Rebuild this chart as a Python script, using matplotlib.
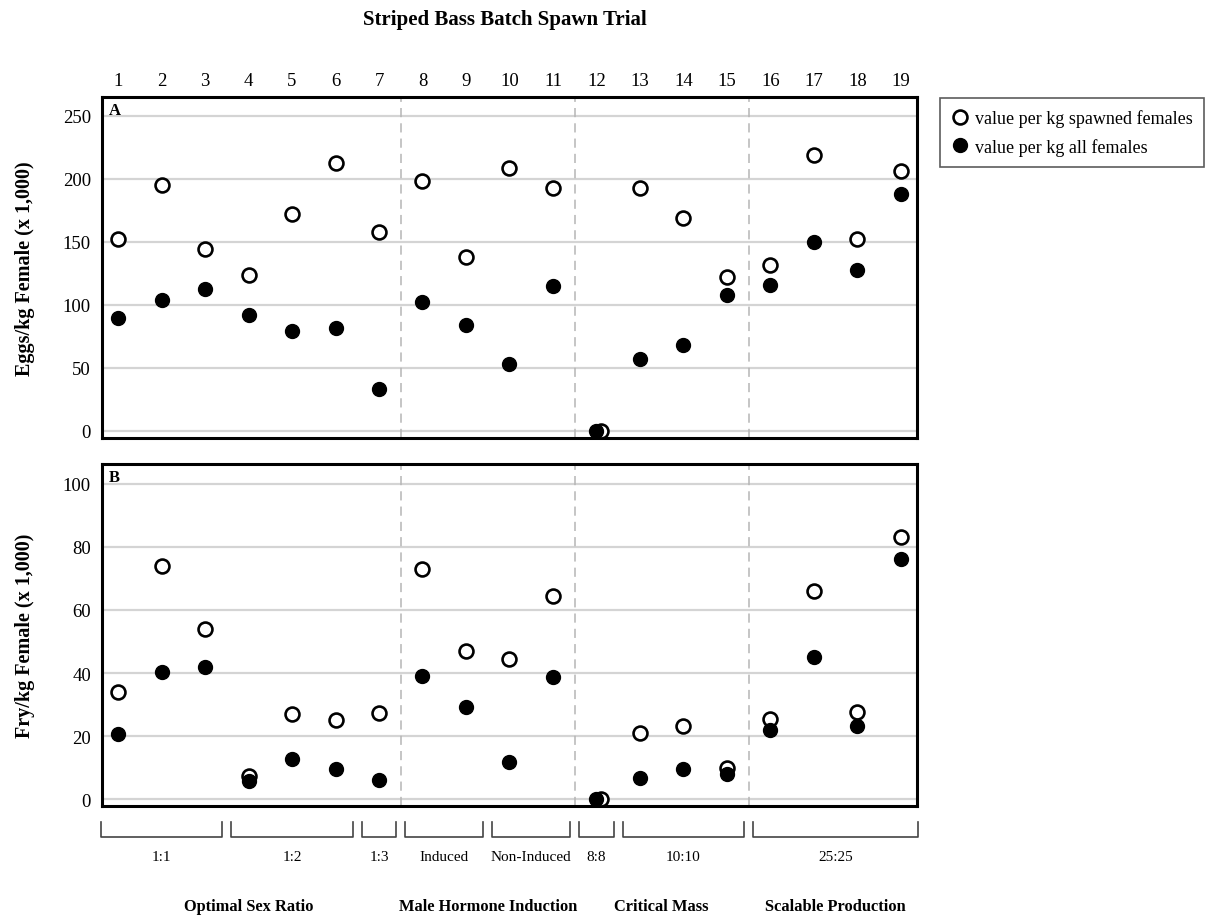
import numpy as np
import matplotlib.pyplot as plt

plt.rcParams['font.family'] = ['Liberation Serif', 'DejaVu Serif']

trials = np.arange(1, 20)

eggs_spawned = [152, 195, 144, 124, 172, 213, 158, 198, 138, 209, 193, 0,
                193, 169, 122, 132, 219, 152, 206]
eggs_all = [90, 104, 113, 92, 79, 82, 33, 102, 84, 53, 115, 0,
            57, 68, 108, 116, 150, 128, 188]

fry_spawned = [34, 74, 54, 7.4, 27, 25, 27.2, 73, 47, 44.3, 64.3, 0,
               21, 23.2, 9.8, 25.3, 66, 27.7, 83]
fry_all = [20.5, 40.3, 41.8, 5.6, 12.6, 9.6, 6.2, 38.9, 29.2, 11.7, 38.8, 0,
           6.8, 9.4, 8.1, 22, 45.2, 23.2, 76.3]

# sub-groups shown as brackets under panel B: (label, first trial, last trial)
subgroups = [('1:1', 1, 3), ('1:2', 4, 6), ('1:3', 7, 7),
             ('Induced', 8, 9), ('Non-Induced', 10, 11),
             ('8:8', 12, 12), ('10:10', 13, 15), ('25:25', 16, 19)]
# experiments: (label, first trial, last trial)
experiments = [('Optimal Sex Ratio', 1, 7), ('Male Hormone Induction', 8, 11),
               ('Critical Mass', 12, 15), ('Scalable Production', 16, 19)]

fig = plt.figure(figsize=(12.07, 9.2), dpi=100)
ax_a = fig.add_axes([0.0845, 0.5228, 0.6752, 0.3707])
ax_b = fig.add_axes([0.0845, 0.1228, 0.6752, 0.3717])

grid_c = '#d4d4d4'
ms = 10


def style_panel(ax, letter):
    ax.set_xlim(0.63, 19.37)
    ax.set_xticks(trials)
    ax.grid(axis='y', color=grid_c, lw=1.6)
    ax.set_axisbelow(True)
    for s in ax.spines.values():
        s.set_linewidth(2.2)
        s.set_color('black')
    ax.tick_params(axis='y', length=0, pad=8, labelsize=13.5)
    for _, first, last in experiments[:-1]:
        ax.axvline(last + 0.5, color='#b5b5b5', lw=1.1, ls=(0, (6, 4)), zorder=1)
    ax.text(0.008, 0.985, letter, transform=ax.transAxes, ha='left', va='top',
            fontsize=12, fontweight='bold')


def draw_pair(ax, spawned, all_f):
    spawned = np.asarray(spawned)
    # overlapping zero values are drawn slightly apart, as in the original
    x_open = trials + 0.1 * (spawned == 0)
    ax.plot(x_open, spawned, 'o', mfc='white', mec='black', mew=1.9,
            ms=ms, zorder=3, label='value per kg spawned females')
    ax.plot(trials, all_f, 'o', color='black', ms=ms, zorder=4,
            label='value per kg all females')


# panel A
style_panel(ax_a, 'A')
draw_pair(ax_a, eggs_spawned, eggs_all)
ax_a.set_ylim(-5.6, 265)
ax_a.set_yticks(np.arange(0, 251, 50))
ax_a.xaxis.tick_top()
ax_a.tick_params(axis='x', length=0, pad=6, labelsize=13.5)
ax_a.set_ylabel('Eggs/kg Female (x 1,000)', fontsize=14.5, fontweight='bold',
                labelpad=20)

# panel B
style_panel(ax_b, 'B')
draw_pair(ax_b, fry_spawned, fry_all)
ax_b.set_ylim(-2.2, 106.3)
ax_b.set_yticks(np.arange(0, 101, 20))
ax_b.tick_params(axis='x', length=0, labelbottom=False)
ax_b.set_ylabel('Fry/kg Female (x 1,000)', fontsize=14.5, fontweight='bold',
                labelpad=20)

# brackets below panel B
tr = ax_b.get_xaxis_transform()
for label, first, last in subgroups:
    x0, x1 = first - 0.4, last + 0.4
    ax_b.plot([x0, x0, x1, x1], [-0.047, -0.09, -0.09, -0.047], color='#444444',
              lw=1.2, transform=tr, clip_on=False)
    ax_b.text((x0 + x1) / 2, -0.148, label, transform=tr, ha='center',
              va='center', fontsize=11)
for label, first, last in experiments:
    ax_b.text((first + last) / 2, -0.293, label, transform=tr, ha='center',
              va='center', fontsize=11.8, fontweight='bold')

fig.text(0.418, 0.978, 'Striped Bass Batch Spawn Trial', ha='center',
         va='center', fontsize=15, fontweight='bold')

handles, labels = ax_a.get_legend_handles_labels()
leg = fig.legend(handles, labels, loc='upper left',
                 bbox_to_anchor=(0.779, 0.892), fontsize=13, frameon=True,
                 fancybox=False, edgecolor='#333333', handletextpad=0.35,
                 handlelength=1.0, borderpad=0.6, labelspacing=0.6,
                 borderaxespad=0)
leg.get_frame().set_linewidth(1.2)

fig.savefig('out.png', dpi=100)
